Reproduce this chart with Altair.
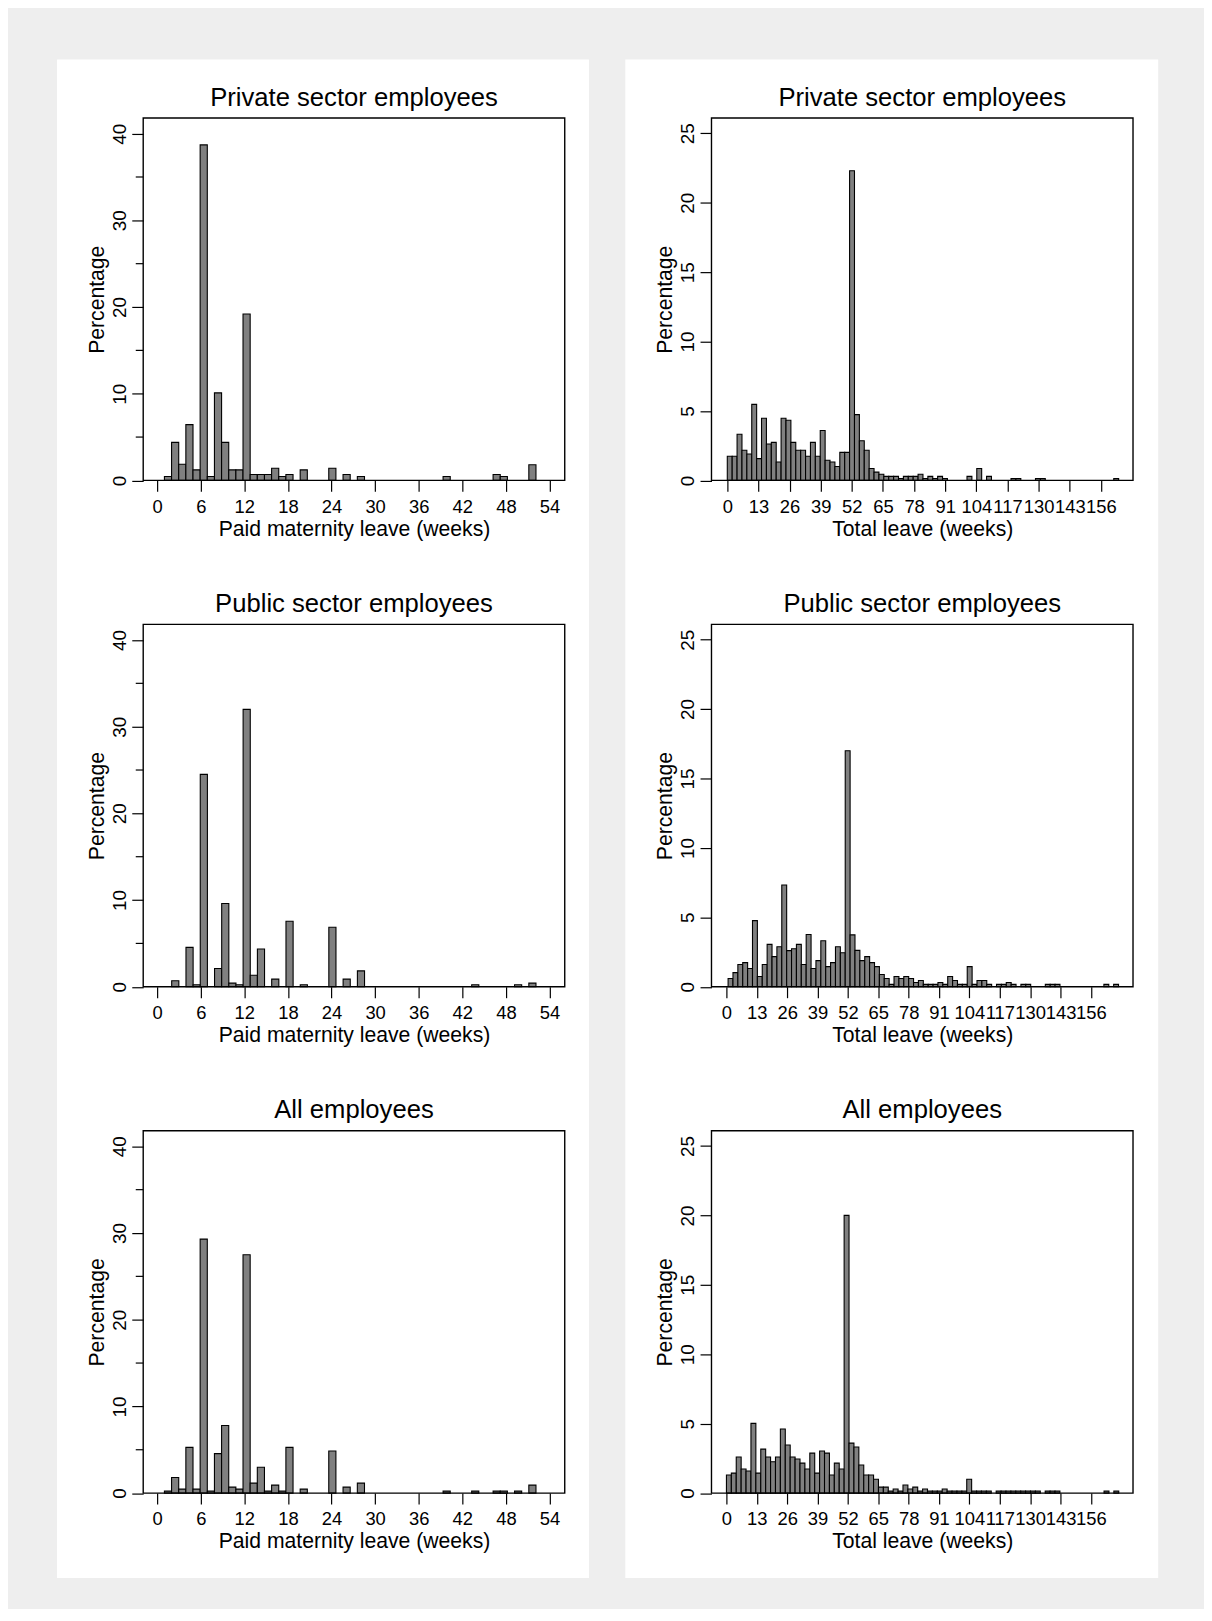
import altair as alt
import pandas as pd

FONT = "Liberation Sans"
GRAY = "#eeeeee"
BAR = "#808080"

# ---------------- data (percentages per histogram bin) ----------------
# Paid maternity leave, one bin per week: private & all start at week 1, public at week 2
paid_private = [0.46, 4.39, 1.87, 6.44, 1.22, 38.7, 0.46, 10.1, 4.39, 1.22,
                1.22, 19.2, 0.69, 0.69, 0.69, 1.41, 0.46, 0.69, 0, 1.22,
                0, 0, 0, 1.41, 0, 0.69, 0, 0.46, 0, 0,
                0, 0, 0, 0, 0, 0, 0, 0, 0, 0.46,
                0, 0, 0, 0, 0, 0, 0.69, 0.46, 0, 0,
                0, 1.8]
paid_public = [0.69, 0, 4.54, 0.23, 24.5, 0, 2.1, 9.6, 0.42, 0.23,
               32.0, 1.33, 4.35, 0, 0.88, 0, 7.55, 0, 0.23, 0,
               0, 0, 6.86, 0, 0.88, 0, 1.83, 0, 0, 0,
               0, 0, 0, 0, 0, 0, 0, 0, 0, 0,
               0, 0, 0.23, 0, 0, 0, 0, 0, 0.23, 0,
               0.42]
paid_all = [0.23, 1.8, 0.46, 5.27, 0.46, 29.3, 0.23, 4.55, 7.8, 0.69,
            0.46, 27.5, 1.15, 2.98, 0.23, 0.92, 0.23, 5.27, 0, 0.46,
            0, 0, 0, 4.85, 0, 0.69, 0, 1.15, 0, 0,
            0, 0, 0, 0, 0, 0, 0, 0, 0, 0.23,
            0, 0, 0, 0.23, 0, 0, 0.23, 0.23, 0, 0.23,
            0, 0.92]

# Total leave, 80 bins each
total_private = [1.74, 1.74, 3.33, 2.17, 1.9, 5.48, 1.57, 4.48, 2.62, 2.74,
                 1.33, 4.48, 4.33, 2.74, 2.17, 2.17, 1.74, 2.74, 1.74, 3.6,
                 1.45, 1.33, 1.0, 2.02, 2.02, 22.3, 4.74, 2.86, 2.17, 0.86,
                 0.6, 0.45, 0.29, 0.29, 0.29, 0.14, 0.29, 0.29, 0.29, 0.45,
                 0.14, 0.29, 0.14, 0.29, 0.14, 0, 0, 0, 0, 0.29,
                 0, 0.86, 0, 0.29, 0, 0, 0, 0, 0.14, 0.14,
                 0, 0, 0, 0.14, 0.14, 0, 0, 0, 0, 0,
                 0, 0, 0, 0, 0, 0, 0, 0, 0, 0.14]
total_public = [0.6, 1.02, 1.6, 1.74, 1.31, 4.76, 0.74, 1.6, 3.05, 2.17,
                2.88, 7.33, 2.6, 2.74, 3.05, 1.6, 3.76, 1.31, 1.88, 3.31,
                1.45, 1.74, 2.88, 2.45, 17.0, 3.74, 2.62, 1.88, 2.17, 1.74,
                1.45, 0.88, 0.6, 0.17, 0.74, 0.6, 0.74, 0.6, 0.31, 0.45,
                0.17, 0.17, 0.17, 0.31, 0.17, 0.74, 0.45, 0.17, 0.17, 1.45,
                0.17, 0.45, 0.45, 0.17, 0, 0.17, 0.17, 0.31, 0.17, 0,
                0.17, 0.17, 0, 0, 0, 0.17, 0.17, 0.17, 0, 0,
                0, 0, 0, 0, 0, 0, 0, 0.17, 0, 0.17]
total_all = [1.3, 1.44, 2.6, 1.73, 1.59, 5.02, 1.44, 3.17, 2.6, 2.26,
             2.6, 4.62, 3.46, 2.6, 2.45, 2.16, 1.73, 2.88, 1.44, 3.03,
             2.88, 1.3, 2.16, 1.73, 20.0, 3.6, 3.32, 2.02, 1.3, 1.3,
             1.0, 0.43, 0.43, 0.14, 0.29, 0.14, 0.58, 0.29, 0.43, 0.14,
             0.29, 0.14, 0.14, 0.14, 0.29, 0.14, 0.14, 0.14, 0.14, 1.0,
             0.14, 0.14, 0.14, 0.14, 0, 0.14, 0.14, 0.14, 0.14, 0.14,
             0.14, 0.14, 0.14, 0.14, 0, 0.14, 0.14, 0.14, 0, 0,
             0, 0, 0, 0, 0, 0, 0, 0.14, 0, 0.14]

# data range (weeks) covered by each histogram
paid_private_range = (1.0, 52.14)
paid_public_range = (2.0, 52.14)
paid_all_range = (1.0, 52.14)
total_private_range = (0.0, 163.4)
total_public_range = (0.71, 167.8)
total_all_range = (0.0, 167.9)

paid_ticks = [0, 6, 12, 18, 24, 30, 36, 42, 48, 54]
total_ticks = [0, 13, 26, 39, 52, 65, 78, 91, 104, 117, 130, 143, 156]
paid_pct_ticks = [0, 10, 20, 30, 40]
paid_pct_minor = [5, 15, 25, 35]
total_pct_ticks = [0, 5, 10, 15, 20, 25]

titles = ["Private sector employees", "Public sector employees", "All employees"]
paid_title = "Paid maternity leave (weeks)"
total_title = "Total leave (weeks)"

# ---------------- layout ----------------
W, H = 424, 364.5
ROW_GAP, COL_GAP = 144.3, 147.6
one = pd.DataFrame({"k": [0]})


def hist_df(vals, rng):
    lo, hi = rng
    w = (hi - lo) / len(vals)
    rows = [{"lo": lo + i * w, "hi": lo + (i + 1) * w, "pct": v}
            for i, v in enumerate(vals) if v > 0]
    return pd.DataFrame(rows)


def rect(x0, x1, y0, y1, color):
    return alt.Chart(one).mark_rect(color=color, clip=False).encode(
        x=alt.value(x0), x2=alt.value(x1), y=alt.value(y0), y2=alt.value(y1))


def panel(title, vals, rng, xdom, xticks, xtitle, ydom, yticks, minor=None, backdrop=None):
    df = hist_df(vals, rng)
    xs = alt.Scale(domain=xdom, nice=False, zero=False)
    ys = alt.Scale(domain=ydom, nice=False, zero=False)
    xaxis = alt.Axis(values=xticks, format="d", title=xtitle, labelAngle=0,
                     labelAlign="center", labelBaseline="top", labelFontSize=18.5,
                     tickSize=11, labelPadding=6.0, labelOverlap=False, labelFlush=False,
                     titleFontSize=21.3, titleX=W / 2, titleY=38, titleAlign="center",
                     titleBaseline="top", zindex=1)
    yaxis = alt.Axis(values=yticks, format="d", title="Percentage", labelAngle=270,
                     labelAlign="center", labelBaseline="alphabetic", labelFontSize=19,
                     tickSize=11.5, labelPadding=6.5, labelOverlap=False, labelFlush=False,
                     titleFontSize=21.3, titleAngle=270, titleX=-40, titleY=H / 2,
                     titleAlign="center", titleBaseline="alphabetic", zindex=1)
    bars = alt.Chart(df).mark_rect(fill=BAR, stroke="black", strokeWidth=1.1).encode(
        x=alt.X("lo:Q", scale=xs, axis=xaxis),
        x2="hi:Q",
        y=alt.Y("pct:Q", scale=ys, axis=yaxis),
        y2=alt.datum(0),
    )
    layers = list(backdrop or []) + [bars]
    if minor:
        mdf = pd.DataFrame({"pct": minor})
        layers.append(alt.Chart(mdf).mark_rule(color="black", strokeWidth=1.2, clip=False).encode(
            y=alt.Y("pct:Q"), x=alt.value(-7.5), x2=alt.value(0)))
    frame = alt.Chart(one).mark_rect(fill="white", fillOpacity=0, stroke="black",
                                     strokeWidth=1.4).encode(
        x=alt.value(0), x2=alt.value(W), y=alt.value(0), y2=alt.value(H))
    ttl = alt.Chart(one).mark_text(text=title, font=FONT, fontSize=25.8, color="black",
                                   align="center", baseline="alphabetic").encode(
        x=alt.value(W / 2), y=alt.value(-12.5))
    layers += [frame, ttl]
    return alt.layer(*layers).properties(width=W, height=H)


PAID_X = [-1.92, 56.1]
PAID_Y = [0, 41.8]
TOT_Y = [0, 26.1]

bg_left = [rect(-135.3, 1066.7, -105.3, 1494.7, GRAY), rect(-86.7, 448.4, -59, 1468.4, "white")]
bg_right = [rect(-86.7, 449.3, -59, 1468.4, "white")]

p11 = panel(titles[0], paid_private, paid_private_range, PAID_X, paid_ticks, paid_title,
            PAID_Y, paid_pct_ticks, paid_pct_minor, bg_left)
p12 = panel(titles[0], total_private, total_private_range, [-6.6, 169.4], total_ticks,
            total_title, TOT_Y, total_pct_ticks, None, bg_right)
p21 = panel(titles[1], paid_public, paid_public_range, PAID_X, paid_ticks, paid_title,
            PAID_Y, paid_pct_ticks, paid_pct_minor)
p22 = panel(titles[1], total_public, total_public_range, [-6.4, 174.0], total_ticks,
            total_title, TOT_Y, total_pct_ticks)
p31 = panel(titles[2], paid_all, paid_all_range, PAID_X, paid_ticks, paid_title,
            PAID_Y, paid_pct_ticks, paid_pct_minor)
p32 = panel(titles[2], total_all, total_all_range, [-6.4, 174.0], total_ticks,
            total_title, TOT_Y, total_pct_ticks)

chart = alt.concat(p11, p12, p21, p22, p31, p32, columns=2,
                   spacing={"row": ROW_GAP, "column": COL_GAP}, bounds="flush").properties(
    padding=0, background=GRAY
).configure_view(strokeWidth=0).configure_axis(
    labelFont=FONT, titleFont=FONT, labelColor="black", titleColor="black",
    tickColor="black", tickWidth=1.2, domain=False, grid=False,
    titleFontWeight="normal", labelFontWeight="normal"
)

chart.save("out.html", embed_options={"renderer": "svg", "actions": False})
